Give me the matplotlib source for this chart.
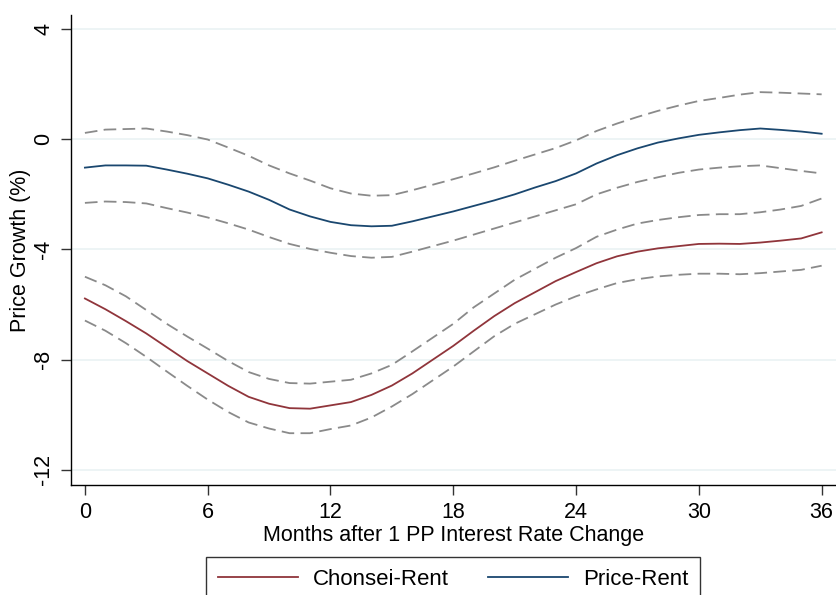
import numpy as np
import matplotlib.pyplot as plt

plt.rcParams['font.family'] = ['Liberation Sans', 'DejaVu Sans']

months = list(range(37))

# Chonsei-Rent response and its bands
chonsei = [-5.78, -6.17, -6.60, -7.05, -7.55, -8.05, -8.50, -8.95, -9.35, -9.60,
           -9.76, -9.78, -9.66, -9.54, -9.28, -8.94, -8.50, -8.00, -7.50, -6.95,
           -6.42, -5.95, -5.55, -5.15, -4.82, -4.50, -4.25, -4.08, -3.96, -3.88,
           -3.80, -3.79, -3.80, -3.75, -3.68, -3.60, -3.38]
chonsei_hi = [-4.99, -5.30, -5.70, -6.20, -6.70, -7.16, -7.60, -8.05, -8.45, -8.70,
              -8.85, -8.87, -8.80, -8.73, -8.50, -8.19, -7.70, -7.20, -6.70, -6.10,
              -5.60, -5.10, -4.70, -4.30, -3.95, -3.54, -3.28, -3.06, -2.93, -2.83,
              -2.75, -2.72, -2.72, -2.65, -2.55, -2.42, -2.15]
chonsei_lo = [-6.58, -6.95, -7.40, -7.90, -8.43, -8.95, -9.45, -9.90, -10.28, -10.50,
              -10.67, -10.67, -10.52, -10.39, -10.10, -9.70, -9.25, -8.75, -8.25, -7.70,
              -7.15, -6.70, -6.35, -6.00, -5.70, -5.45, -5.22, -5.08, -4.98, -4.92,
              -4.88, -4.88, -4.90, -4.86, -4.80, -4.74, -4.59]

# Price-Rent response and its bands
price = [-1.03, -0.95, -0.95, -0.96, -1.10, -1.25, -1.42, -1.65, -1.90, -2.20,
         -2.55, -2.80, -3.00, -3.12, -3.16, -3.14, -2.98, -2.80, -2.62, -2.42,
         -2.22, -2.00, -1.75, -1.52, -1.24, -0.88, -0.58, -0.33, -0.12, 0.03,
         0.16, 0.25, 0.33, 0.39, 0.34, 0.28, 0.20]
price_hi = [0.23, 0.35, 0.37, 0.39, 0.28, 0.15, -0.01, -0.30, -0.60, -0.95,
            -1.24, -1.50, -1.78, -1.97, -2.05, -2.03, -1.85, -1.65, -1.45, -1.24,
            -1.02, -0.78, -0.55, -0.32, -0.04, 0.30, 0.57, 0.81, 1.03, 1.22,
            1.39, 1.50, 1.62, 1.71, 1.69, 1.66, 1.63]
price_lo = [-2.31, -2.26, -2.28, -2.33, -2.50, -2.66, -2.84, -3.05, -3.28, -3.55,
            -3.80, -3.98, -4.12, -4.24, -4.30, -4.27, -4.08, -3.88, -3.68, -3.46,
            -3.24, -3.02, -2.80, -2.58, -2.36, -2.00, -1.76, -1.55, -1.38, -1.22,
            -1.10, -1.03, -0.98, -0.95, -1.05, -1.15, -1.24]

xticks = [0, 6, 12, 18, 24, 30, 36]
yticks = [-12, -8, -4, 0, 4]

red = '#90353b'
navy = '#1a476f'
grey = '#8a8a8a'

fig = plt.figure(figsize=(8.37, 5.95), dpi=100)
ax = fig.add_axes([71 / 837, 1 - 485 / 595, 1 - 71 / 837, (485 - 15) / 595])

dash = (0, (7, 3.5))
for band in (chonsei_hi, chonsei_lo, price_hi, price_lo):
    ax.plot(months, band, color=grey, lw=1.3, linestyle=dash)
ax.plot(months, chonsei, color=red, lw=1.3, label='Chonsei-Rent')
ax.plot(months, price, color=navy, lw=1.3, label='Price-Rent')

ax.set_xlim(-0.68, 36.75)
ax.set_ylim(-12.55, 4.51)
ax.set_xticks(xticks)
ax.set_yticks(yticks)
ax.set_yticklabels([str(t) for t in yticks], rotation=90, va='center')
ax.grid(axis='y', color='#eaf2f3', lw=1.2)
ax.set_axisbelow(True)

for s in ('top', 'right'):
    ax.spines[s].set_visible(False)
ax.spines['left'].set_linewidth(1.0)
ax.spines['bottom'].set_linewidth(1.0)
ax.tick_params(axis='both', direction='out', length=7, width=1.0,
               color='#333333', labelsize=15.5, pad=5)
ax.tick_params(axis='y', pad=5)

ax.set_xlabel('Months after 1 PP Interest Rate Change', fontsize=15.5, labelpad=2)
ax.set_ylabel('Price Growth (%)', fontsize=15.5, labelpad=2)

fig.legend(loc='upper center', bbox_to_anchor=(453 / 837, 1 - 557 / 595),
           ncol=2, fontsize=16, frameon=True, fancybox=False,
           edgecolor='black', handlelength=3.6, handletextpad=0.68,
           columnspacing=1.75, borderpad=0.55, borderaxespad=0)

plt.savefig('out.png', dpi=100)
